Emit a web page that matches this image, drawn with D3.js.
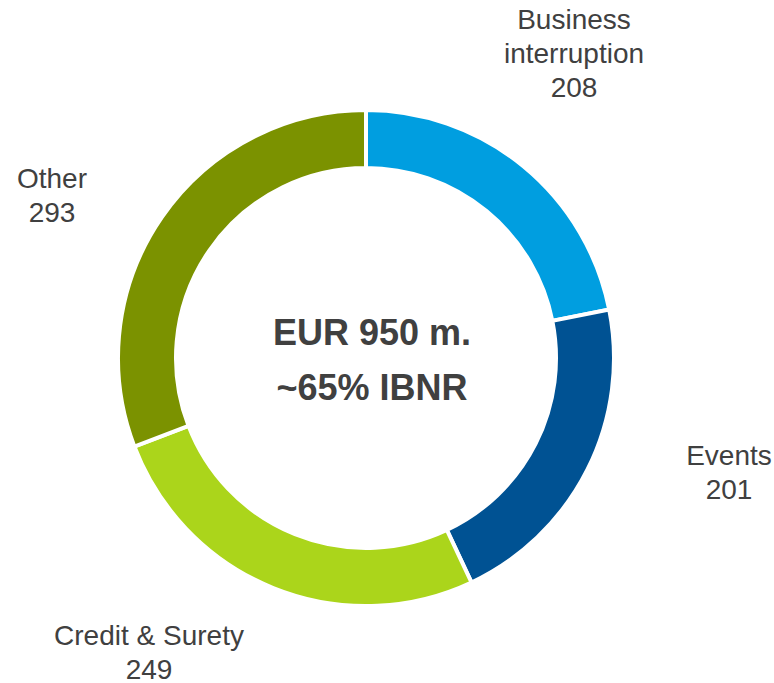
<!DOCTYPE html>
<html>
<head>
<meta charset="utf-8">
<script src="https://cdn.jsdelivr.net/npm/d3@7"></script>
<style>
  body { margin: 0; background: #fff; }
  svg text { font-family: "Liberation Sans", Arial, sans-serif; fill: #404040; }
</style>
</head>
<body>
<div id="chart"></div>
<script>
// data
var categories = ["Business interruption", "Events", "Credit & Surety", "Other"];
var values = [208, 201, 249, 293];
var colors = ["#009ee0", "#005293", "#abd51b", "#7b9200"];
var labelLines = [["Business", "interruption", "208"], ["Events", "201"], ["Credit & Surety", "249"], ["Other", "293"]];
var centerLines = ["EUR 950 m.", "~65% IBNR"];

var svgWidth = 774;
var svgHeight = 683;

var svg = d3.select("#chart").append("svg")
  .attr("width", svgWidth)
  .attr("height", svgHeight);

// donut geometry
var cx = 366, cy = 358;
var outerR = 248, innerR = 190;

var pie = d3.pie().sort(null).value(d => d);
var arc = d3.arc().innerRadius(innerR).outerRadius(outerR);

var g = svg.append("g")
  .attr("transform", `translate(${cx}, ${cy})`);

g.selectAll(".slice")
  .data(pie(values))
  .enter()
  .append("path")
  .classed("slice", true)
  .attr("d", arc)
  .attr("fill", (d, i) => colors[i])
  .attr("stroke", "white")
  .attr("stroke-width", 4);

// label anchor points (x centre, first baseline)
var labelPos = [[574, 29], [729, 465], [149, 645], [52, 188]];
var lineH = 34;

labelLines.forEach(function(lines, i) {
  var t = svg.append("text")
    .attr("text-anchor", "middle")
    .attr("font-size", 28);
  lines.forEach(function(s, j) {
    t.append("tspan")
      .attr("x", labelPos[i][0])
      .attr("y", labelPos[i][1] + j * lineH)
      .text(s);
  });
});

// centre text
var ct = svg.append("text")
  .attr("text-anchor", "middle")
  .attr("font-size", 36)
  .attr("font-weight", "bold");
centerLines.forEach(function(s, j) {
  ct.append("tspan")
    .attr("x", 372)
    .attr("y", 345 + j * 55)
    .text(s);
});
</script>
</body>
</html>
